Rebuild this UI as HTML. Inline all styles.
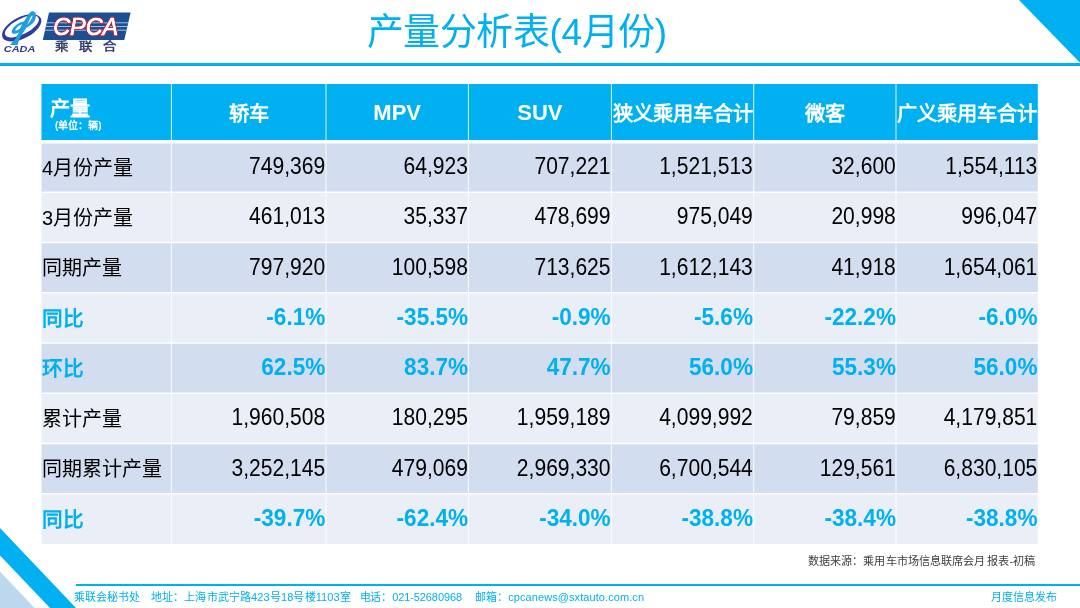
<!DOCTYPE html>
<html lang="zh-CN"><head><meta charset="utf-8"><title>产量分析表</title>
<style>
html,body{margin:0;padding:0;}
body{width:1080px;height:608px;overflow:hidden;background:#fff;position:relative;font-family:"Liberation Sans",sans-serif;}
#tx{position:absolute;left:0;top:0;width:1080px;height:608px;will-change:transform;}
svg.bg{position:absolute;left:0;top:0;will-change:transform;}
.title{position:absolute;left:366.5px;top:9px;font-size:37px;letter-spacing:-0.4px;color:#00B0F0;white-space:nowrap;line-height:48px;}
.h0{position:absolute;font-size:20.3px;font-weight:bold;color:#fff;line-height:24px;white-space:nowrap;}
.unit{position:absolute;font-size:10px;font-weight:bold;color:#fff;line-height:12px;white-space:nowrap;}
.hc{position:absolute;top:85.5px;height:54px;line-height:56px;text-align:center;font-size:20.3px;font-weight:bold;color:#fff;white-space:nowrap;}
.lab{position:absolute;left:42px;height:50px;line-height:50px;font-size:20px;color:#000;white-space:nowrap;}
.pctl{color:#00B0F0;font-weight:bold;font-size:20.7px;}
.num{position:absolute;height:50px;line-height:50px;text-align:right;font-size:23px;transform:scaleX(0.915);transform-origin:100% 50%;color:#000;white-space:nowrap;}
.pct{position:absolute;height:50px;line-height:50px;text-align:right;font-size:23.4px;transform:scaleX(0.965);transform-origin:100% 50%;font-weight:bold;color:#00B0F0;white-space:nowrap;}
.src{position:absolute;left:808px;top:554px;font-size:11.1px;letter-spacing:0.08px;color:#404040;white-space:nowrap;line-height:14px;}
.foot{position:absolute;top:590px;font-size:11px;color:#00B0F0;white-space:nowrap;line-height:14px;}
</style></head><body>
<svg class="bg" width="1080" height="608" viewBox="0 0 1080 608">
<polygon points="1019,0 1080,0 1080,62.7" fill="#00B0F0"/>
<rect x="0" y="63" width="1080" height="3" fill="#00B0F0"/>
<polygon points="0,571.4 0,608 34.5,608" fill="#BDD7EE"/>
<polygon points="0,528 0,555.5 50,608 76,608" fill="#00B0F0"/>
<rect x="76" y="584" width="1004" height="2" fill="#00B0F0"/>
<rect x="41.5" y="84" width="996.30" height="56" fill="#00B0F0"/>
<rect x="41.5" y="143.50" width="996.30" height="48.00" fill="#D2DEEF"/>
<rect x="41.5" y="193.00" width="996.30" height="48.75" fill="#EAEFF7"/>
<rect x="41.5" y="243.25" width="996.30" height="48.75" fill="#D2DEEF"/>
<rect x="41.5" y="293.50" width="996.30" height="48.75" fill="#EAEFF7"/>
<rect x="41.5" y="343.75" width="996.30" height="48.75" fill="#D2DEEF"/>
<rect x="41.5" y="394.00" width="996.30" height="48.75" fill="#EAEFF7"/>
<rect x="41.5" y="444.25" width="996.30" height="48.75" fill="#D2DEEF"/>
<rect x="41.5" y="494.50" width="996.30" height="49.50" fill="#EAEFF7"/>
<rect x="170.90" y="84" width="1" height="460" fill="#fff" fill-opacity="0.85"/>
<rect x="325.50" y="84" width="1" height="460" fill="#fff" fill-opacity="0.85"/>
<rect x="467.90" y="84" width="1" height="460" fill="#fff" fill-opacity="0.85"/>
<rect x="610.90" y="84" width="1" height="460" fill="#fff" fill-opacity="0.85"/>
<rect x="753.20" y="84" width="1" height="460" fill="#fff" fill-opacity="0.85"/>
<rect x="895.50" y="84" width="1" height="460" fill="#fff" fill-opacity="0.85"/>
<g id="logo">
<ellipse cx="21.7" cy="27.85" rx="21.4" ry="10.7" transform="rotate(-27.3 21.7 27.85)" fill="#2E3D98"/>
<ellipse cx="21.9" cy="26.5" rx="18.7" ry="7.7" transform="rotate(-27.3 21.9 26.5)" fill="#fff"/>
<path fill="#1E9FDF" fill-rule="evenodd" d="M10,45 L17.6,45 C18.5,41 20,38 22,34.5 L26.5,27.5 C29,26.2 32,24.5 34.3,21.5 C36.2,18.5 36.5,14.5 35,12.3 C33.5,10.5 31,11.2 29.5,13 C27.5,15.5 25.5,19 23.8,21.6 C21,22 17.5,23.5 14.5,26.5 C11.5,29.5 11,32.5 12.5,33.5 C14,34.2 16.5,33.5 18.8,32.2 L16,38 Z M33,14 C33.3,15.5 31.5,19.5 27.4,25 C28.5,21.5 30.5,17 33,14 Z M15.2,30.6 C15.8,28 19,25 22,24.2 L20.2,28.2 C18.7,29.6 16.5,30.6 15.2,30.6 Z"/>
<text x="3.8" y="51.8" font-family="Liberation Sans" font-weight="bold" font-style="italic" font-size="8.4" fill="#2A3A95" textLength="31.5" lengthAdjust="spacingAndGlyphs">CADA</text>
<polygon points="49,12.4 130.6,12.4 124.3,40 42.8,40" fill="#1B4F93"/>
<g stroke="#B9CCE8" stroke-width="0.9">
<line x1="46.3" y1="22.8" x2="128.2" y2="22.8"/>
<line x1="45.5" y1="26.5" x2="127.4" y2="26.5"/>
<line x1="44.6" y1="30.2" x2="126.5" y2="30.2"/>
</g>
<text x="53.2" y="35.4" font-family="Liberation Sans" font-style="italic" font-size="24.5" fill="#fff" stroke="#D0212F" stroke-width="2.6" paint-order="stroke" textLength="65" lengthAdjust="spacingAndGlyphs">CPCA</text>
<text x="53.2" y="35.4" font-family="Liberation Sans" font-style="italic" font-size="24.5" fill="#fff" stroke="#fff" stroke-width="0.6" textLength="65" lengthAdjust="spacingAndGlyphs">CPCA</text>
<g font-size="12.5" fill="#2F3A66" stroke="#2F3A66" stroke-width="0.45" font-family="Liberation Sans">
<text x="54.6" y="51" textLength="14" lengthAdjust="spacingAndGlyphs">乘</text>
<text x="78.6" y="51" textLength="14" lengthAdjust="spacingAndGlyphs">联</text>
<text x="103" y="51" textLength="14" lengthAdjust="spacingAndGlyphs">合</text>
</g>
</g>
</svg>
<div id="tx">
<div class="title">产量分析表(4月份)</div>
<div class="h0" style="left:50.3px;top:96.6px">产量</div>
<div class="unit" style="left:55px;top:119.5px">(单位：辆)</div>
<div class="hc" style="left:171.4px;width:154.6px">轿车</div>
<div class="hc" style="left:326.0px;width:142.4px;font-size:22px;top:84.5px">MPV</div>
<div class="hc" style="left:468.4px;width:143.0px;font-size:22px;top:84.5px">SUV</div>
<div class="hc" style="left:611.4px;width:142.3px">狭义乘用车合计</div>
<div class="hc" style="left:753.7px;width:142.3px">微客</div>
<div class="hc" style="left:896.0px;width:141.8px">广义乘用车合计</div>
<div class="lab" style="top:142.80px">4月份产量</div>
<div class="num" style="top:141.10px;left:171.4px;width:154.1px">749,369</div>
<div class="num" style="top:141.10px;left:326.0px;width:141.9px">64,923</div>
<div class="num" style="top:141.10px;left:468.4px;width:142.5px">707,221</div>
<div class="num" style="top:141.10px;left:611.4px;width:141.8px">1,521,513</div>
<div class="num" style="top:141.10px;left:753.7px;width:141.8px">32,600</div>
<div class="num" style="top:141.10px;left:896.0px;width:141.3px">1,554,113</div>
<div class="lab" style="top:193.05px">3月份产量</div>
<div class="num" style="top:191.35px;left:171.4px;width:154.1px">461,013</div>
<div class="num" style="top:191.35px;left:326.0px;width:141.9px">35,337</div>
<div class="num" style="top:191.35px;left:468.4px;width:142.5px">478,699</div>
<div class="num" style="top:191.35px;left:611.4px;width:141.8px">975,049</div>
<div class="num" style="top:191.35px;left:753.7px;width:141.8px">20,998</div>
<div class="num" style="top:191.35px;left:896.0px;width:141.3px">996,047</div>
<div class="lab" style="top:243.30px">同期产量</div>
<div class="num" style="top:241.60px;left:171.4px;width:154.1px">797,920</div>
<div class="num" style="top:241.60px;left:326.0px;width:141.9px">100,598</div>
<div class="num" style="top:241.60px;left:468.4px;width:142.5px">713,625</div>
<div class="num" style="top:241.60px;left:611.4px;width:141.8px">1,612,143</div>
<div class="num" style="top:241.60px;left:753.7px;width:141.8px">41,918</div>
<div class="num" style="top:241.60px;left:896.0px;width:141.3px">1,654,061</div>
<div class="lab pctl" style="top:293.55px">同比</div>
<div class="pct" style="top:292.15px;left:171.4px;width:154.3px">-6.1%</div>
<div class="pct" style="top:292.15px;left:326.0px;width:142.1px">-35.5%</div>
<div class="pct" style="top:292.15px;left:468.4px;width:142.7px">-0.9%</div>
<div class="pct" style="top:292.15px;left:611.4px;width:142.0px">-5.6%</div>
<div class="pct" style="top:292.15px;left:753.7px;width:142.0px">-22.2%</div>
<div class="pct" style="top:292.15px;left:896.0px;width:141.5px">-6.0%</div>
<div class="lab pctl" style="top:343.80px">环比</div>
<div class="pct" style="top:342.40px;left:171.4px;width:154.3px">62.5%</div>
<div class="pct" style="top:342.40px;left:326.0px;width:142.1px">83.7%</div>
<div class="pct" style="top:342.40px;left:468.4px;width:142.7px">47.7%</div>
<div class="pct" style="top:342.40px;left:611.4px;width:142.0px">56.0%</div>
<div class="pct" style="top:342.40px;left:753.7px;width:142.0px">55.3%</div>
<div class="pct" style="top:342.40px;left:896.0px;width:141.5px">56.0%</div>
<div class="lab" style="top:394.05px">累计产量</div>
<div class="num" style="top:392.35px;left:171.4px;width:154.1px">1,960,508</div>
<div class="num" style="top:392.35px;left:326.0px;width:141.9px">180,295</div>
<div class="num" style="top:392.35px;left:468.4px;width:142.5px">1,959,189</div>
<div class="num" style="top:392.35px;left:611.4px;width:141.8px">4,099,992</div>
<div class="num" style="top:392.35px;left:753.7px;width:141.8px">79,859</div>
<div class="num" style="top:392.35px;left:896.0px;width:141.3px">4,179,851</div>
<div class="lab" style="top:444.30px">同期累计产量</div>
<div class="num" style="top:442.60px;left:171.4px;width:154.1px">3,252,145</div>
<div class="num" style="top:442.60px;left:326.0px;width:141.9px">479,069</div>
<div class="num" style="top:442.60px;left:468.4px;width:142.5px">2,969,330</div>
<div class="num" style="top:442.60px;left:611.4px;width:141.8px">6,700,544</div>
<div class="num" style="top:442.60px;left:753.7px;width:141.8px">129,561</div>
<div class="num" style="top:442.60px;left:896.0px;width:141.3px">6,830,105</div>
<div class="lab pctl" style="top:494.55px">同比</div>
<div class="pct" style="top:493.15px;left:171.4px;width:154.3px">-39.7%</div>
<div class="pct" style="top:493.15px;left:326.0px;width:142.1px">-62.4%</div>
<div class="pct" style="top:493.15px;left:468.4px;width:142.7px">-34.0%</div>
<div class="pct" style="top:493.15px;left:611.4px;width:142.0px">-38.8%</div>
<div class="pct" style="top:493.15px;left:753.7px;width:142.0px">-38.4%</div>
<div class="pct" style="top:493.15px;left:896.0px;width:141.5px">-38.8%</div>
<div class="src">数据来源：乘用车市场信息联席会月<span style="margin-left:2px">报表-初稿</span></div>
<div class="foot" style="left:74px">乘联会秘书处</div>
<div class="foot" style="left:151px;letter-spacing:0.12px">地址：上海市武宁路423号18号楼1103室</div>
<div class="foot" style="left:359.5px;letter-spacing:-0.1px">电话：021-52680968</div>
<div class="foot" style="left:475px;letter-spacing:0.08px">邮箱：cpcanews@sxtauto.com.cn</div>
<div class="foot" style="left:990.5px;letter-spacing:0.1px">月度信息发布</div>
</div>
</body></html>
